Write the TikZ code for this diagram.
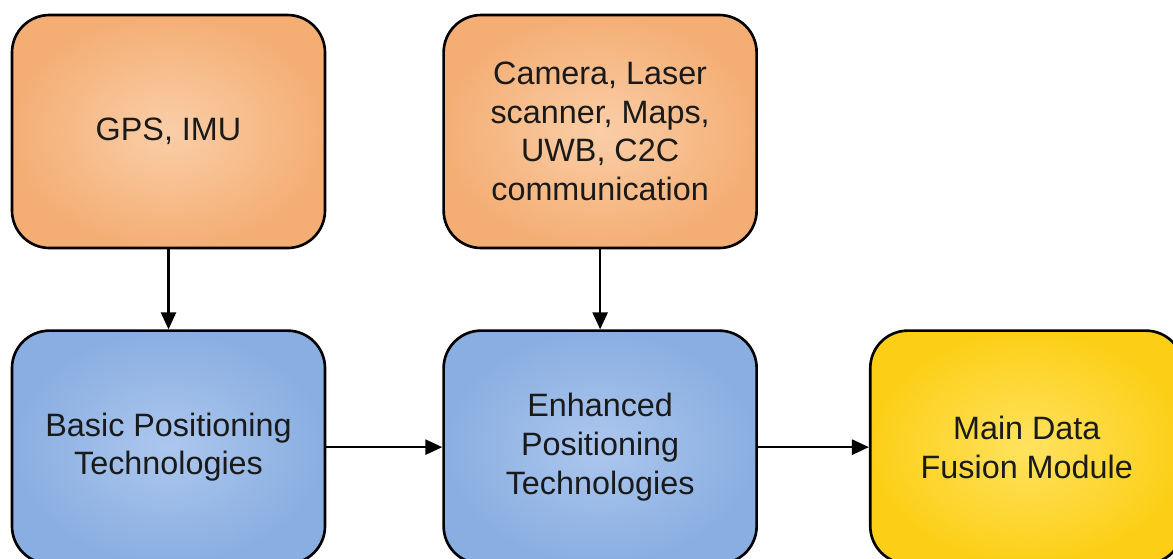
\documentclass[tikz,border=0pt]{standalone}
\usepackage{fontspec}
\setmainfont{Liberation Sans}
\usepackage{tikz}
\usetikzlibrary{positioning,arrows.meta}
\usepackage{xcolor}

\definecolor{sensorIn}{RGB}{250,206,168}
\definecolor{sensorOut}{RGB}{244,174,116}
\definecolor{posIn}{RGB}{172,199,238}
\definecolor{posOut}{RGB}{137,174,225}
\definecolor{fusionIn}{RGB}{255,226,96}
\definecolor{fusionOut}{RGB}{252,207,22}
\definecolor{textgray}{RGB}{26,26,26}

\begin{document}
\begin{tikzpicture}[
    box/.style={draw, line width=1.5pt, rounded corners=0.75cm, minimum width=6.26cm, minimum height=4.66cm,
        align=center, text=textgray, font=\fontsize{18.4}{22}\selectfont},
    sensorbox/.style={box, shading=radial, inner color=sensorIn, outer color=sensorOut},
    posbox/.style={box, shading=radial, inner color=posIn, outer color=posOut},
    fusionbox/.style={box, shading=radial, inner color=fusionIn, outer color=fusionOut},
    arr/.style={-{Triangle[length=0.34cm, width=0.3cm]}, line width=1.5pt},
    node distance=1.6cm
]

\useasboundingbox (0,0) rectangle (23.46,-11.16);
\clip (0,0) rectangle (23.46,-11.16);

\node[sensorbox] (gps) at (3.37,-2.63) {GPS, IMU};

\node[posbox, below=of gps] (basic)
{Basic Positioning\\Technologies};

\node[posbox, right=2.32cm of basic] (enhanced)
{Enhanced\\Positioning\\Technologies};

\node[sensorbox, above=of enhanced] (camera)
{Camera, Laser\\scanner, Maps,\\UWB, C2C\\communication};

\node[fusionbox, right=2.22cm of enhanced] (fusion)
{Main Data\\Fusion Module};

\draw[arr] (gps) -- (basic);
\draw[arr] (camera) -- (enhanced);
\draw[arr] (basic) -- (enhanced);
\draw[arr] (enhanced) -- (fusion);

\end{tikzpicture}
\end{document}
